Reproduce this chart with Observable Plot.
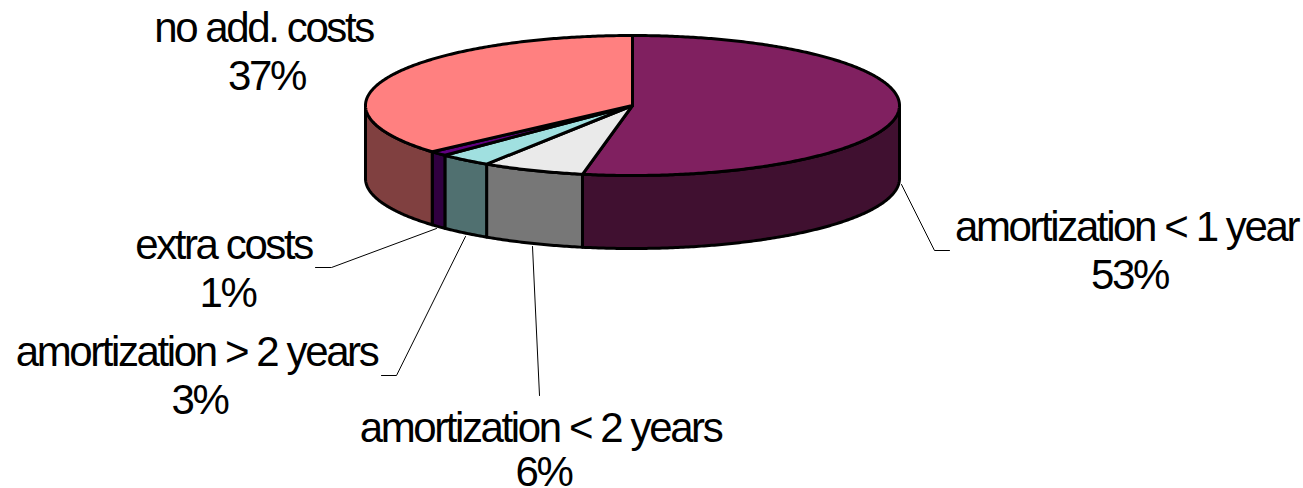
<!DOCTYPE html>
<html>
<head>
<meta charset="utf-8">
<script src="https://cdn.jsdelivr.net/npm/d3@7"></script>
<script src="https://cdn.jsdelivr.net/npm/@observablehq/plot@0.6"></script>
<style>html,body{margin:0;padding:0;background:#fff}svg{display:block}</style>
</head>
<body>
<div id="chart"></div>
<script>
// Data
const categories = ["amortization < 1 year", "amortization < 2 years", "amortization > 2 years", "extra costs", "no add. costs"];
const shares = [53.0, 6.2, 3.2, 1.1, 36.5];
const topColors = ["#802060", "#EAEAEA", "#A0E0E0", "#600080", "#FF8080"];
const sideColors = ["#401030", "#777777", "#507070", "#300040", "#804040"];

// Pie projection (layout)
const cx = 632, cy = 105, rx = 267, ry = 70, depth = 73;
const TAU = Math.PI * 2;
const px = (t) => cx + rx * Math.sin(t);
const py = (t) => cy - ry * Math.cos(t);
const arc = (a, b) => {
  const n = Math.max(2, Math.ceil((b - a) / 0.01));
  return d3.range(n + 1).map((i) => a + (b - a) * i / n);
};

let cum = 0;
const slices = shares.map((v, i) => {
  const a = cum / 100 * TAU; cum += v;
  return {i, a, b: cum / 100 * TAU};
});

const tops = slices.flatMap((s) => [
  {k: s.i, x: cx, y: cy},
  ...arc(s.a, s.b).map((t) => ({k: s.i, x: px(t), y: py(t)}))
]);

const sides = slices.flatMap((s) => {
  const a = Math.max(s.a, Math.PI / 2), b = Math.min(s.b, 3 * Math.PI / 2);
  if (b <= a) return [];
  const ts = arc(a, b);
  return [
    ...ts.map((t) => ({k: s.i, x: px(t), y: py(t)})),
    ...ts.slice().reverse().map((t) => ({k: s.i, x: px(t), y: py(t) + depth}))
  ];
});

// Callouts (layout)
const leaders = [
  {i: 0, pts: [[901, 184], [934, 250], [949, 250]]},
  {i: 1, pts: [[532, 246], [539, 395]]},
  {i: 2, pts: [[381, 375], [396, 375], [465, 236]]},
  {i: 3, pts: [[315, 267], [331, 267], [436, 228]]}
].flatMap((l) => l.pts.map(([x, y]) => ({k: l.i, x, y})));

const labelAnchors = [[1126, 227], [540, 428], [196, 352], [223, 245], [263, 28]];
const pctOffset = [3, 3, 3, 4, 3];
const pctDrop = [48, 44, 48, 48, 48];
const labels = categories.flatMap((c, i) => [
  {text: c, x: labelAnchors[i][0], y: labelAnchors[i][1]},
  {text: Math.round(shares[i]) + "%", x: labelAnchors[i][0] + pctOffset[i], y: labelAnchors[i][1] + pctDrop[i]}
]);

const chart = Plot.plot({
  width: 1303, height: 488,
  margin: 0,
  x: {domain: [0, 1303], range: [0, 1303], axis: null},
  y: {domain: [0, 488], range: [0, 488], axis: null},
  marks: [
    Plot.line(sides, {x: "x", y: "y", z: "k", curve: "linear-closed",
      fill: (d) => sideColors[d.k], stroke: "#000", strokeWidth: 3, strokeLinejoin: "round"}),
    Plot.line(tops, {x: "x", y: "y", z: "k", curve: "linear-closed",
      fill: (d) => topColors[d.k], stroke: "#000", strokeWidth: 3, strokeLinejoin: "round"}),
    Plot.line(leaders, {x: "x", y: "y", z: "k", stroke: "#000", strokeWidth: 1}),
    Plot.text(labels, {x: "x", y: "y", text: "text", fill: "#000", stroke: "none",
      fontSize: 42, fontFamily: "Liberation Sans", textAnchor: "middle", lineAnchor: "middle"})
  ]
});
chart.style.letterSpacing = "-2.4px";
chart.style.background = "#fff";
document.getElementById("chart").appendChild(chart);
</script>
</body>
</html>
